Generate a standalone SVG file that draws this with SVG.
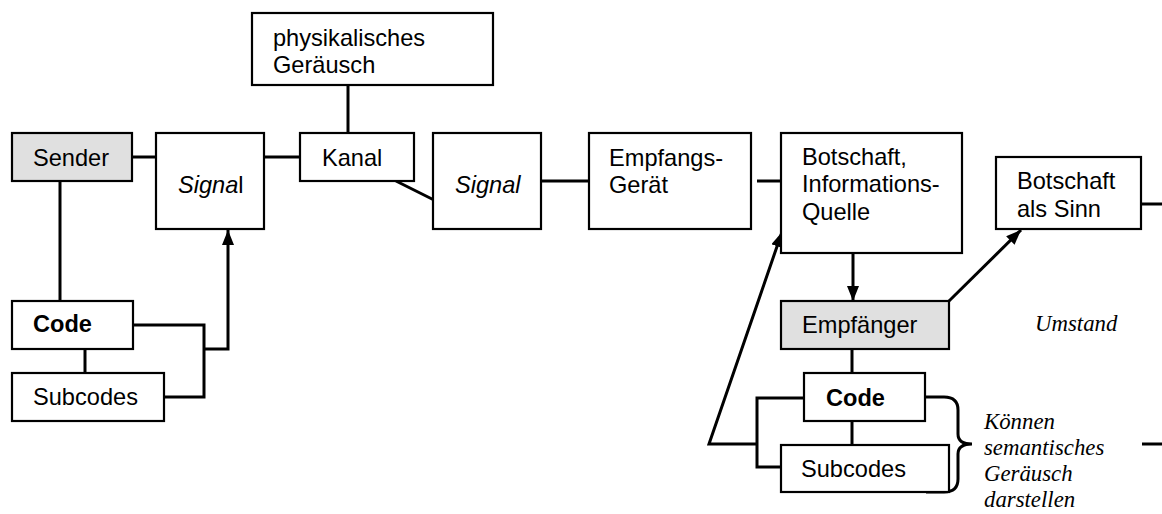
<svg xmlns="http://www.w3.org/2000/svg" width="1162" height="514" viewBox="0 0 1162 514">
<style>
.box{fill:#fff;stroke:#000;stroke-width:2.2}
.grey{fill:#e0e0e0;stroke:#000;stroke-width:2.2}
.t{font-family:"Liberation Sans",Arial,sans-serif;font-size:23.6px;fill:#000}
.b{font-weight:bold}
.s{font-family:"Liberation Serif","Times New Roman",serif;font-size:22.8px;font-style:italic;fill:#000}
.c{fill:none;stroke:#000;stroke-width:3}
</style>
<defs>
<marker id="ah" markerUnits="userSpaceOnUse" markerWidth="16" markerHeight="12" refX="15" refY="6" orient="auto">
<path d="M0,0 L15,6 L0,12 z" fill="#000"/>
</marker>
</defs>
<g id="connectors">
<line class="c" x1="132" y1="157" x2="156" y2="157"/>
<line class="c" x1="252" y1="157" x2="300" y2="157"/>
<line class="c" x1="348" y1="85" x2="348" y2="133"/>
<line class="c" x1="396" y1="181" x2="444" y2="205"/>
<line class="c" x1="541" y1="181" x2="589" y2="181"/>
<line class="c" x1="757" y1="181" x2="781" y2="181"/>
<line class="c" x1="853" y1="253" x2="853" y2="301" marker-end="url(#ah)"/>
<line class="c" x1="949" y1="301" x2="1021" y2="230" marker-end="url(#ah)"/>
<line class="c" x1="1141" y1="204" x2="1162" y2="204"/>
<line class="c" x1="60" y1="181" x2="60" y2="301"/>
<line class="c" x1="85" y1="349" x2="85" y2="373"/>
<polyline class="c" points="133,325 204,325 204,397 157,397"/>
<polyline class="c" points="204,349 228,349 228,230" marker-end="url(#ah)"/>
<line class="c" x1="852" y1="349" x2="852" y2="373"/>
<line class="c" x1="852" y1="421" x2="852" y2="445"/>
<polyline class="c" points="804,398 757,398 757,467 781,467"/>
<polyline class="c" points="757,444 709,444 782,232" marker-end="url(#ah)"/>
<path class="c" d="M926,397 L944,397 Q958,397 958,410 L958,434 Q958,444 972,444 Q958,444 958,454 L958,479 Q958,492 944,492 L926,492"/>
<line class="c" x1="1142" y1="444" x2="1162" y2="444"/>
</g>
<g id="geraeusch">
<rect class="box" x="252" y="13" width="241" height="72"/>
<text class="t" x="273" y="46">physikalisches</text>
<text class="t" x="273" y="73">Geräusch</text>
</g>
<g id="sender">
<rect class="grey" x="12" y="133" width="120" height="48"/>
<text class="t" x="33" y="166">Sender</text>
</g>
<g id="signal1">
<rect class="box" x="156" y="133" width="108" height="96"/>
<text class="t" x="178" y="193"><tspan font-style="italic">Signa</tspan>l</text>
</g>
<g id="kanal">
<rect class="box" x="300" y="133" width="114" height="48"/>
<text class="t" x="322" y="166">Kanal</text>
</g>
<g id="signal2">
<rect class="box" x="433" y="133" width="108" height="96"/>
<text class="t" x="455" y="193" font-style="italic">Signal</text>
</g>
<g id="empfangsgeraet">
<rect class="box" x="589" y="133" width="162" height="96"/>
<text class="t" x="609" y="166">Empfangs-</text>
<text class="t" x="609" y="193">Gerät</text>
</g>
<g id="botschaft">
<rect class="box" x="781" y="133" width="181" height="120"/>
<text class="t" x="802" y="165">Botschaft,</text>
<text class="t" x="802" y="192">Informations-</text>
<text class="t" x="802" y="220">Quelle</text>
</g>
<g id="botschaftsinn">
<rect class="box" x="996" y="157" width="145" height="72"/>
<text class="t" x="1017" y="189">Botschaft</text>
<text class="t" x="1017" y="217">als Sinn</text>
</g>
<g id="empfaenger">
<rect class="grey" x="781" y="301" width="168" height="48"/>
<text class="t" x="802" y="333">Empfänger</text>
</g>
<g id="umstand">
<text class="s" x="1035" y="331">Umstand</text>
</g>
<g id="code1">
<rect class="box" x="12" y="301" width="121" height="48"/>
<text class="t b" x="33" y="332">Code</text>
</g>
<g id="subcodes1">
<rect class="box" x="12" y="373" width="152" height="48"/>
<text class="t" x="33" y="405">Subcodes</text>
</g>
<g id="code2">
<rect class="box" x="804" y="373" width="121" height="48"/>
<text class="t b" x="826" y="406">Code</text>
</g>
<g id="subcodes2">
<rect class="box" x="781" y="445" width="168" height="47"/>
<text class="t" x="801" y="477">Subcodes</text>
</g>
<g id="semantisch">
<text class="s" x="984" y="429">Können</text>
<text class="s" x="984" y="455">semantisches</text>
<text class="s" x="984" y="481">Geräusch</text>
<text class="s" x="984" y="507">darstellen</text>
</g>
</svg>
